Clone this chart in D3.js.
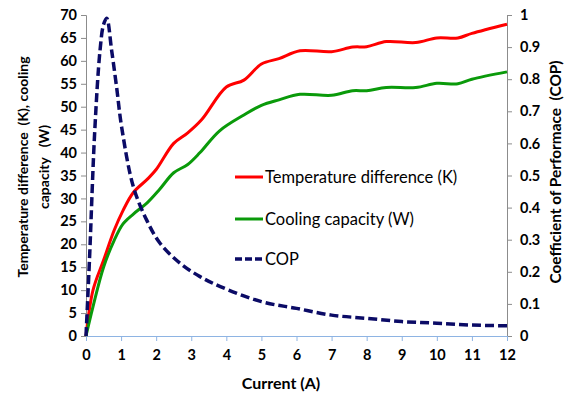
<!DOCTYPE html>
<html>
<head>
<meta charset="utf-8">
<script src="https://cdn.jsdelivr.net/npm/d3@7"></script>
<style>
  body { margin: 0; background: #fff; }
  svg text { font-family: Lato, 'Open Sans', sans-serif; fill: #000; }
</style>
</head>
<body>
<div id="chartEl"></div>
<script>
// current (A) for the two smooth curves
const tempX = [0, 0.2, 0.5, 0.8, 1.05, 1.35, 1.75, 2, 2.5, 2.9, 3.3, 4, 4.5, 5, 5.5, 6.1, 7, 7.6, 8, 8.56, 9.4, 10, 10.6, 11, 12];
const tempDiff = [0, 10, 16.5, 23, 27.3, 31.3, 34.2, 36.3, 42, 44.3, 47.2, 54.3, 55.8, 59.3, 60.5, 62.2, 62, 63, 63.1, 64.2, 64, 65, 65, 66, 68];
const coolX = [0, 0.2, 0.5, 0.8, 1.05, 1.35, 1.75, 2.1, 2.5, 2.9, 3.25, 3.8, 4.5, 5, 5.5, 6.1, 7, 7.6, 8, 8.56, 9.4, 10, 10.6, 11, 12];
const coolCap = [0, 6.4, 15, 20.8, 24.4, 26.6, 29.1, 32, 35.6, 37.4, 40, 44.7, 48.2, 50.3, 51.5, 52.7, 52.5, 53.5, 53.5, 54.2, 54.2, 55.1, 55, 56, 57.6];
const copX = [0, 0.1, 0.25, 0.4, 0.5, 0.59, 0.73, 0.87, 1.02, 1.35, 1.73, 2.11, 2.69, 3.25, 3.83, 5, 6, 7, 8, 9, 10, 11, 12];
const cop = [0, 0.24, 0.64, 0.89, 0.97, 0.99, 0.89, 0.777, 0.648, 0.465, 0.361, 0.289, 0.226, 0.185, 0.154, 0.107, 0.086, 0.065, 0.055, 0.045, 0.04, 0.034, 0.032];

const xTicks = d3.range(0, 13, 1);
const yTicks = d3.range(0, 71, 5);
const y2Ticks = d3.range(0, 1.01, 0.1);
const legendItems = ['Temperature difference (K)', 'Cooling capacity (W)', 'COP'];

const width = 566;
const height = 394;
const margin = {top: 15, right: 59, bottom: 58, left: 86};
const w = width - margin.left - margin.right;
const h = height - margin.top - margin.bottom;

const red = '#ff0000';
const green = '#0a9a0a';
const navy = '#0b0b66';
const gray = '#8c8c8c';
const blue = '#8eb4e3';

const x = d3.scaleLinear().domain([0, 12]).range([0, w]);
const y = d3.scaleLinear().domain([0, 70]).range([h, 0]);
const y2 = d3.scaleLinear().domain([0, 1]).range([h, 0]);

const svg = d3.select('#chartEl').append('svg')
  .attr('width', width)
  .attr('height', height)
  .append('g')
  .attr('transform', 'translate(' + margin.left + ',' + margin.top + ')');

// axes
const yAxis = svg.append('g')
  .call(d3.axisLeft(y).tickValues(yTicks).tickSize(5).tickPadding(4));
yAxis.selectAll('path, line').attr('stroke', gray);

const y2Axis = svg.append('g')
  .attr('transform', 'translate(' + w + ',0)')
  .call(d3.axisRight(y2).tickValues(y2Ticks).tickSize(5).tickPadding(8)
    .tickFormat(d => d3.format('~g')(+d.toFixed(1))));
y2Axis.selectAll('path, line').attr('stroke', gray);

const xAxis = svg.append('g')
  .attr('transform', 'translate(0,' + h + ')')
  .call(d3.axisBottom(x).tickValues(xTicks).tickSize(5).tickPadding(9).tickSizeOuter(0));
xAxis.selectAll('path, line').attr('stroke', blue);

svg.selectAll('.tick text')
  .style('font-size', '14.5px')
  .style('font-weight', 700);

// lines
const line = d3.line().curve(d3.curveCatmullRom.alpha(0.5));

svg.append('path')
  .attr('d', line(tempX.map((d, i) => [x(d), y(tempDiff[i])])))
  .attr('fill', 'none')
  .attr('stroke', red)
  .attr('stroke-width', 3);

svg.append('path')
  .attr('d', line(coolX.map((d, i) => [x(d), y(coolCap[i])])))
  .attr('fill', 'none')
  .attr('stroke', green)
  .attr('stroke-width', 3);

svg.append('path')
  .attr('d', line(copX.map((d, i) => [x(d), y2(cop[i])])))
  .attr('fill', 'none')
  .attr('stroke', navy)
  .attr('stroke-width', 3.5)
  .attr('stroke-dasharray', '9,4');

// legend
const legend = svg.append('g').attr('transform', 'translate(149,162)');
const legendRow = legend.selectAll('g')
  .data(legendItems)
  .enter().append('g')
  .attr('transform', (d, i) => 'translate(0,' + [0, 42, 82][i] + ')');
legendRow.append('line')
  .attr('x1', 0).attr('x2', 28)
  .attr('stroke', (d, i) => [red, green, navy][i])
  .attr('stroke-width', (d, i) => i === 2 ? 3.5 : 3)
  .attr('stroke-dasharray', (d, i) => i === 2 ? '7,3' : null);
legendRow.append('text')
  .attr('x', 30)
  .attr('dy', '0.35em')
  .style('font-size', '16.5px')
  .text(d => d);

// axis titles
svg.append('text')
  .attr('x', 281 - margin.left)
  .attr('y', h + 53)
  .attr('text-anchor', 'middle')
  .style('font-size', '16px')
  .style('font-weight', 700)
  .text('Current (A)');

const leftTitle = svg.append('text')
  .attr('transform', 'translate(' + (-58) + ',' + (167 - margin.top) + ') rotate(-90)')
  .attr('text-anchor', 'middle')
  .style('font-size', '14px')
  .style('font-weight', 700);
leftTitle.append('tspan').attr('x', 0).attr('dy', 0).attr('xml:space', 'preserve')
  .text('Temperature difference  (K), cooling');
leftTitle.append('tspan').attr('x', 0).attr('dy', 21).attr('xml:space', 'preserve')
  .text('capacity   (W)');

svg.append('text')
  .attr('transform', 'translate(' + (w + 54) + ',' + (172 - margin.top) + ') rotate(-90)')
  .attr('text-anchor', 'middle')
  .attr('xml:space', 'preserve')
  .style('font-size', '15.4px')
  .style('font-weight', 700)
  .text('Coefficient of Performace  (COP)');
</script>
</body>
</html>
